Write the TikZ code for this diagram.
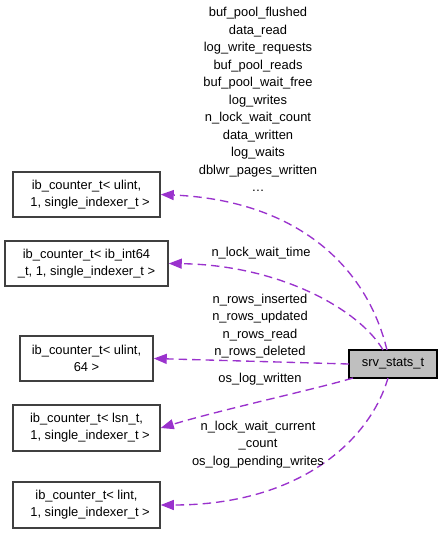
\documentclass[tikz,border=0pt]{standalone}
\usepackage{fontspec}
\setmainfont{Liberation Sans}
\usetikzlibrary{arrows.meta}
\definecolor{edgec}{HTML}{9A32CD}
\definecolor{boxc}{HTML}{404040}
\definecolor{srvfill}{HTML}{BFBFBF}
\tikzset{
  cls/.style={draw=boxc, line width=1.5pt, fill=white, rectangle, inner sep=0pt, align=center, font=\fontsize{12.9}{17}\selectfont},
  lbl/.style={align=center, inner sep=0pt, font=\fontsize{12.9}{17.5}\selectfont},
  dep/.style={draw=edgec, line width=1.35pt, dash pattern=on 8.5pt off 5pt, -{Triangle[length=13pt,width=10pt,fill=edgec]}},
}
\begin{document}
\begin{tikzpicture}[x=1pt,y=-1pt]
\useasboundingbox (0,0) rectangle (443,533);
\node[cls, minimum width=147pt, minimum height=45pt] (b1) at (86.5,194.5) {ib\_counter\_t< ulint,\\\ \ 1, single\_indexer\_t >};
\node[cls, minimum width=163pt, minimum height=45pt] (b2) at (86.5,263.5) {ib\_counter\_t< ib\_int64\\\_t, 1, single\_indexer\_t >};
\node[cls, minimum width=133pt, minimum height=45pt] (b3) at (86.5,358.5) {ib\_counter\_t< ulint,\\64 >};
\node[cls, minimum width=147pt, minimum height=46pt] (b4) at (86.5,428) {ib\_counter\_t< lsn\_t,\\\ \ 1, single\_indexer\_t >};
\node[cls, minimum width=147pt, minimum height=46pt] (b5) at (86.5,505) {ib\_counter\_t< lint,\\\ \ 1, single\_indexer\_t >};
\node[cls, draw=black, fill=srvfill, minimum width=88pt, minimum height=28pt] (s) at (393,364) {srv\_stats\_t};

\coordinate (s1) at (387,350);
\coordinate (s2) at (383,350);
\coordinate (s3) at (349,364);
\coordinate (s4) at (353,378);
\coordinate (s5) at (388,378);

\draw[dep] (s1) .. controls (365,260) and (290,200) .. (b1.east);
\draw[dep] (s2) .. controls (360,310) and (280,265) .. (b2.east);
\draw[dep] (s3) -- (b3.east);
\draw[dep] (s4) .. controls (320,388) and (220,410) .. (b4.east);
\draw[dep] (s5) .. controls (370,440) and (300,505) .. (b5.east);

\node[lbl, anchor=north] (l1) at (258,7) {buf\_pool\_flushed\\data\_read\\log\_write\_requests\\buf\_pool\_reads\\buf\_pool\_wait\_free\\log\_writes\\n\_lock\_wait\_count\\data\_written\\log\_waits\\dblwr\_pages\_written\\\dots};
\node[lbl] (l2) at (261,253) {n\_lock\_wait\_time};
\node[lbl] (l3) at (260,326) {n\_rows\_inserted\\n\_rows\_updated\\n\_rows\_read\\n\_rows\_deleted};
\node[lbl] (l4) at (260,379) {os\_log\_written};
\node[lbl] (l5) at (258,444.5) {n\_lock\_wait\_current\\\_count\\os\_log\_pending\_writes};
\end{tikzpicture}
\end{document}
